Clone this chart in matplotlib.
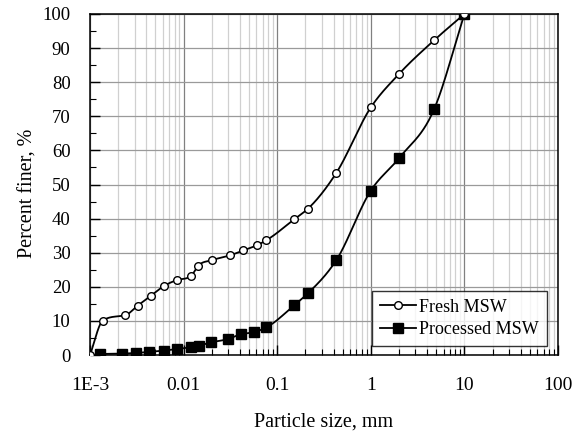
import numpy as np
import matplotlib
matplotlib.use("Agg")
import matplotlib.pyplot as plt
from matplotlib.ticker import FixedLocator, FixedFormatter, LogLocator, MultipleLocator, NullFormatter

plt.rcParams['font.family'] = ['Liberation Serif', 'DejaVu Serif']

# Grain-size distribution data (particle size in mm, percent finer)
fresh_size = [0.001, 0.00137, 0.00235, 0.00324, 0.00449, 0.00622, 0.00857, 0.0121,
              0.0144, 0.020, 0.0313, 0.0435, 0.0609, 0.076, 0.152, 0.213, 0.426,
              1.0, 2.0, 4.75, 10.0]
fresh_pct = [0.0, 10.1, 11.6, 14.5, 17.4, 20.3, 22.0, 23.3,
             26.2, 27.8, 29.2, 30.7, 32.2, 33.6, 39.8, 42.9, 53.3,
             72.6, 82.4, 92.3, 100.0]

proc_size = [0.00128, 0.00221, 0.0031, 0.0043, 0.0061, 0.0084, 0.0119, 0.0145,
             0.0196, 0.030, 0.041, 0.0566, 0.0766, 0.152, 0.213, 0.43,
             1.0, 2.0, 4.75, 10.0]
proc_pct = [0.3, 0.4, 0.6, 0.9, 1.3, 1.7, 2.3, 2.7,
            3.7, 4.7, 6.1, 6.7, 8.1, 14.6, 18.1, 27.9,
            48.2, 57.7, 72.1, 100.0]

xtick_vals = [1e-3, 1e-2, 1e-1, 1, 10, 100]
xtick_labels = ['1E-3', '0.01', '0.1', '1', '10', '100']


def smooth_curve(x, y, n=40):
    """Monotone cubic Hermite through the points in log10(x) space,
    three-point tangents limited with the Fritsch-Carlson condition."""
    lx = np.log10(np.asarray(x, float))
    y = np.asarray(y, float)
    h = np.diff(lx)
    d = np.diff(y) / h
    m = np.empty_like(y)
    m[0], m[-1] = d[0], d[-1]
    for k in range(1, len(y) - 1):
        m[k] = (h[k] * d[k - 1] + h[k - 1] * d[k]) / (h[k - 1] + h[k])
    for k in range(len(d)):
        if d[k] == 0:
            m[k] = m[k + 1] = 0.0
            continue
        a, b = m[k] / d[k], m[k + 1] / d[k]
        s = a * a + b * b
        if s > 9:
            tau = 3 / np.sqrt(s)
            m[k], m[k + 1] = tau * a * d[k], tau * b * d[k]
    xs, ys = [], []
    for k in range(len(h)):
        t = np.linspace(0, 1, n, endpoint=(k == len(h) - 1))
        h00 = 2 * t**3 - 3 * t**2 + 1
        h10 = t**3 - 2 * t**2 + t
        h01 = -2 * t**3 + 3 * t**2
        h11 = t**3 - t**2
        ys.append(h00 * y[k] + h10 * h[k] * m[k] + h01 * y[k + 1] + h11 * h[k] * m[k + 1])
        xs.append(lx[k] + t * h[k])
    return 10 ** np.concatenate(xs), np.concatenate(ys)


fig = plt.figure(figsize=(5.8, 4.34), dpi=100)
ax = fig.add_axes([90 / 580, 1 - 355 / 434, 468 / 580, 341 / 434])

ax.set_xscale('log')
ax.set_xlim(1e-3, 100)
ax.set_ylim(0, 100)

# grid
ax.xaxis.set_major_locator(FixedLocator(xtick_vals))
ax.xaxis.set_major_formatter(FixedFormatter(xtick_labels))
ax.xaxis.set_minor_locator(LogLocator(base=10, subs=np.arange(2, 10), numticks=20))
ax.xaxis.set_minor_formatter(NullFormatter())
ax.yaxis.set_major_locator(MultipleLocator(10))
ax.yaxis.set_minor_locator(MultipleLocator(5))
ax.grid(True, which='major', axis='x', color='#808080', lw=0.9)
ax.grid(True, which='minor', axis='x', color='#d0d0d0', lw=0.9)
ax.grid(True, which='major', axis='y', color='#9a9a9a', lw=0.9)
ax.set_axisbelow(True)

ax.tick_params(axis='both', which='major', direction='in', length=7, width=1.0,
               top=False, right=False)
ax.tick_params(axis='both', which='minor', direction='in', length=4, width=0.8,
               top=False, right=False)
ax.tick_params(axis='x', which='major', labelsize=14, pad=16)
ax.tick_params(axis='y', which='major', labelsize=13.5, pad=14)
for s in ax.spines.values():
    s.set_linewidth(1.1)
    s.set_color('black')

fx, fy = smooth_curve(fresh_size, fresh_pct)
px, py = smooth_curve(proc_size, proc_pct)
ax.plot(px, py, color='black', lw=1.3, zorder=3)
ax.plot(proc_size, proc_pct, ls='none', marker='s', ms=7, mfc='black', mec='black', zorder=4)
ax.plot(fx, fy, color='black', lw=1.3, zorder=3)
ax.plot(fresh_size, fresh_pct, ls='none', marker='o', ms=5.5, mfc='white', mec='black',
        mew=1.0, zorder=5)

h1, = ax.plot([], [], color='black', lw=1.3, marker='o', ms=5.5, mfc='white', mec='black')
h2, = ax.plot([], [], color='black', lw=1.3, marker='s', ms=7, mfc='black', mec='black')
leg = ax.legend([h1, h2], ['Fresh MSW', 'Processed MSW'], loc='lower right',
                bbox_to_anchor=(0.985, 0.015), fontsize=13, frameon=True, fancybox=False,
                edgecolor='black', handlelength=2.0, handletextpad=0.2,
                borderpad=0.45, labelspacing=0.3, borderaxespad=0.2)
leg.get_frame().set_linewidth(1.0)

ax.set_xlabel('Particle size, mm', fontsize=14.5, labelpad=13)
ax.set_ylabel('Percent finer, %', fontsize=14.5)
ax.yaxis.set_label_coords(-0.113, 0.475)

fig.savefig('out.png', dpi=100)
